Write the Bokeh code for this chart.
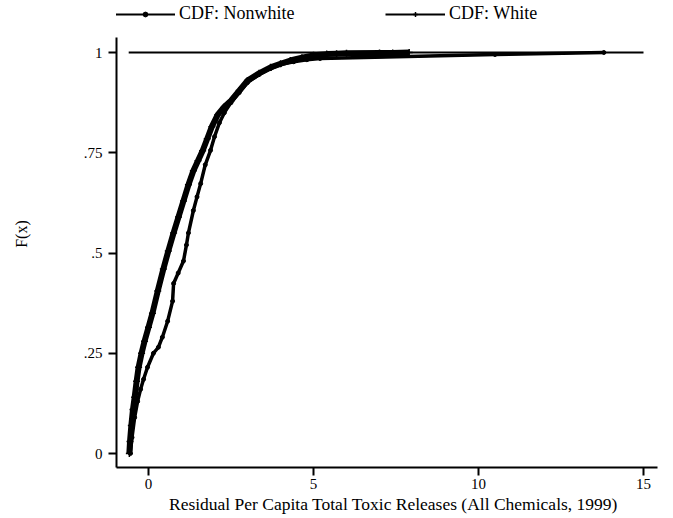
from bokeh.plotting import figure
from bokeh.models import Range1d, Legend, LegendItem, FixedTicker
from bokeh.embed import file_html
from bokeh.resources import INLINE

# ---- data ----
white_x = [-0.58, -0.56, -0.52, -0.47, -0.42, -0.36, -0.30, -0.21, -0.12, 0.0, 0.12, 0.28, 0.45, 0.60,
           0.76, 0.91, 1.06, 1.21, 1.36, 1.50, 1.64, 1.78, 1.92, 2.10, 2.30, 2.50, 2.75, 3.00, 3.35,
           3.70, 4.00, 4.30, 4.65, 5.00, 5.40, 5.70, 6.00, 7.00, 7.40, 7.90]
white_y = [0.00, 0.03, 0.07, 0.11, 0.14, 0.18, 0.215, 0.25, 0.28, 0.315, 0.35, 0.405, 0.46, 0.505,
           0.55, 0.59, 0.63, 0.67, 0.705, 0.73, 0.755, 0.785, 0.815, 0.845, 0.865, 0.88, 0.905, 0.93,
           0.948, 0.963, 0.972, 0.98, 0.987, 0.993, 0.996, 0.997, 0.998, 0.999, 0.999, 1.0]

nonwhite_x = [-0.55, -0.50, -0.42, -0.33, -0.24, -0.15, -0.03, 0.15, 0.30, 0.42, 0.58, 0.73, 0.76,
              0.90, 1.06, 1.15, 1.21, 1.36, 1.47, 1.58, 1.72, 1.88, 2.00, 2.15, 2.30, 2.50, 2.75,
              3.00, 3.35, 3.70, 4.00, 4.40, 4.80, 5.20, 10.5, 13.8]
nonwhite_y = [0.00, 0.04, 0.09, 0.13, 0.16, 0.185, 0.215, 0.25, 0.265, 0.29, 0.33, 0.38, 0.424,
              0.45, 0.48, 0.52, 0.55, 0.606, 0.64, 0.673, 0.72, 0.756, 0.79, 0.825, 0.85, 0.875,
              0.90, 0.925, 0.945, 0.96, 0.97, 0.977, 0.982, 0.985, 0.995, 1.0]

ref_x = [-0.6, 15.0]
ref_y = [1.0, 1.0]

x_ticks = [0, 5, 10, 15]
y_ticks = [0, 0.25, 0.5, 0.75, 1]
y_tick_labels = ["0", ".25", ".5", ".75", "1"]

SERIF = "Liberation Serif"

p = figure(width=670, height=516, output_backend="svg", toolbar_location=None,
           x_range=Range1d(-0.9697, 15.818), y_range=Range1d(-0.0349, 1.1297),
           min_border_left=116, min_border_right=0, min_border_top=0, min_border_bottom=49)
p.outline_line_color = None
p.grid.visible = False
p.background_fill_color = "white"

xa = p.xaxis[0]
ya = p.yaxis[0]
xa.ticker = FixedTicker(ticks=x_ticks)
ya.ticker = FixedTicker(ticks=y_ticks)
ya.major_label_overrides = {t: l for t, l in zip(y_ticks, y_tick_labels)}
xa.bounds = (-0.9697, 15.42)
ya.bounds = (-0.0349, 1.037)

for ax in (xa, ya):
    ax.axis_line_width = 2
    ax.axis_line_color = "black"
    ax.major_tick_line_width = 2
    ax.major_tick_line_color = "black"
    ax.major_tick_out = 8
    ax.major_tick_in = 0
    ax.minor_tick_out = 0
    ax.minor_tick_in = 0
    ax.major_label_text_font = SERIF
    ax.major_label_text_font_size = "15px"
    ax.major_label_text_color = "black"
    ax.axis_label_text_font = SERIF
    ax.axis_label_text_font_style = "normal"
    ax.axis_label_text_color = "black"

xa.axis_label = "Residual Per Capita Total Toxic Releases (All Chemicals, 1999)"
xa.axis_label_text_font_size = "17.5px"
xa.major_label_standoff = 3
xa.axis_label_standoff = 2

ya.axis_label = "F(x)"
ya.axis_label_text_font_size = "16px"
ya.major_label_standoff = 6
ya.axis_label_standoff = 51

# reference line at F(x)=1
p.line(ref_x, ref_y, line_color="black", line_width=2)

# White CDF (thick, + markers)
p.line(white_x, white_y, line_color="black", line_width=6)
w_line = p.line(white_x, white_y, line_color="black", line_width=2)
w_pts = p.scatter(white_x, white_y, marker="cross", size=7, line_color="black", line_width=1.5)

# Nonwhite CDF (dots)
p.line(nonwhite_x, nonwhite_y, line_color="black", line_width=3.5)
nw_line = p.line(nonwhite_x, nonwhite_y, line_color="black", line_width=2)
nw_pts = p.scatter(nonwhite_x, nonwhite_y, marker="circle", size=4, fill_color="black",
                   line_color="black", line_width=1)

def make_legend(label, rends, loc):
    lg = Legend(items=[LegendItem(label=label, renderers=rends)], location=loc,
                orientation="horizontal", glyph_width=60, glyph_height=12, label_height=12,
                label_standoff=4, padding=0, margin=0, spacing=0,
                border_line_color=None, background_fill_alpha=0,
                label_text_font=SERIF, label_text_font_size="18px", label_text_color="black")
    return lg

p.add_layout(make_legend("CDF: Nonwhite", [nw_line, nw_pts], (-1, 443)))
p.add_layout(make_legend("CDF: White", [w_line, w_pts], (269, 443)))

open("out.html", "w").write(file_html(p, INLINE))
